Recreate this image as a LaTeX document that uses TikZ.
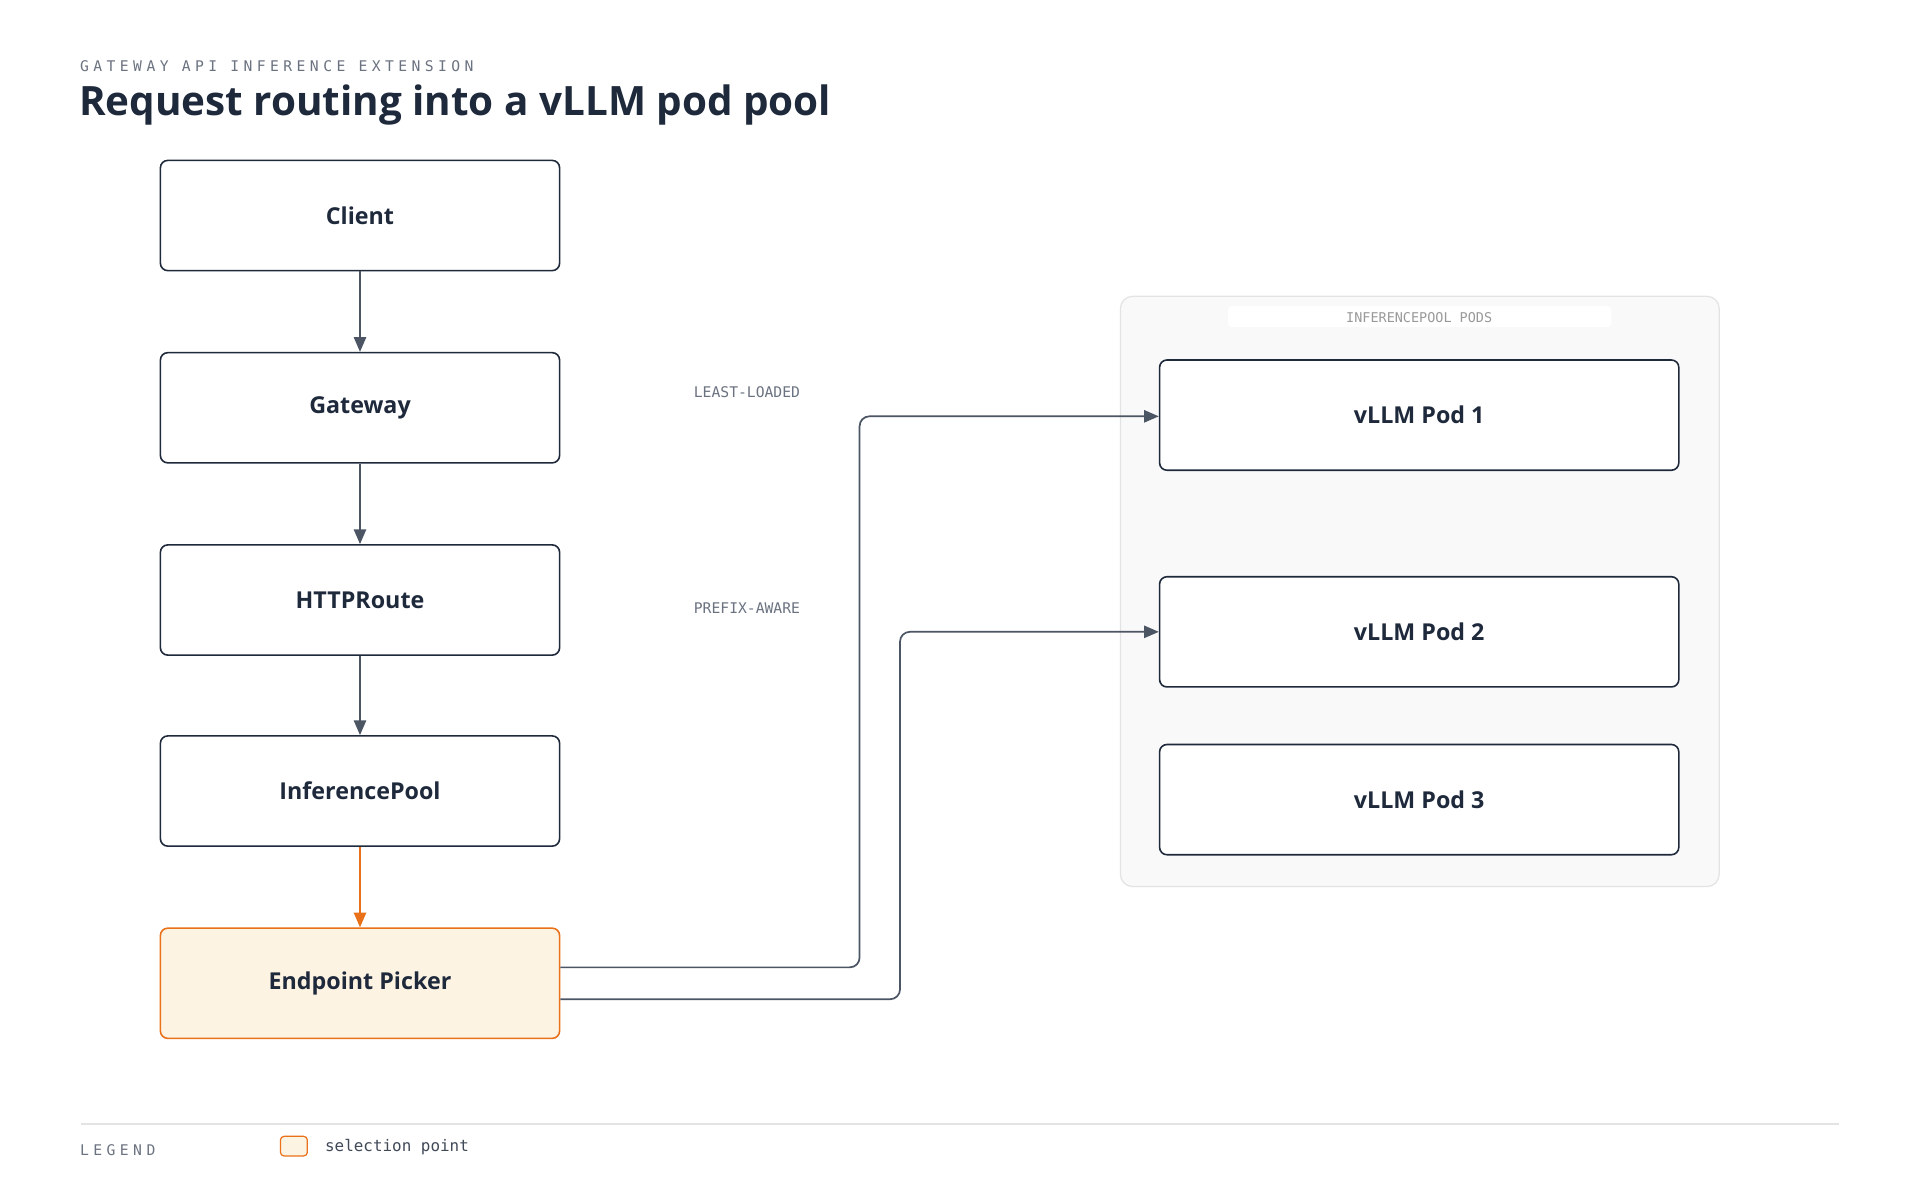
\documentclass[tikz,border=0pt]{standalone}
\usepackage{fontspec}
\setmainfont{Open Sans}
\setmonofont{DejaVu Sans Mono}
\newfontfamily\spacedmono[LetterSpace=30]{DejaVu Sans Mono}
\usetikzlibrary{arrows.meta, positioning, calc}
\definecolor{ink}{HTML}{1E293B}
\definecolor{wire}{HTML}{4B5563}
\definecolor{muted}{HTML}{6B7280}
\definecolor{pick}{HTML}{E8711A}
\definecolor{pickfill}{HTML}{FDF3E3}
\definecolor{groupfill}{HTML}{F9F9F9}
\definecolor{groupline}{HTML}{E3E3E3}
\tikzset{
  box/.style={draw=ink, line width=1.3pt, rounded corners=6pt, fill=white,
    minimum width=326pt, minimum height=90pt, font=\fontsize{19}{22}\selectfont\bfseries, text=ink},
  podbox/.style={box, minimum width=424pt},
  pickbox/.style={box, draw=pick, fill=pickfill},
  flow/.style={draw=wire, line width=1.4pt, -{Triangle[length=12pt,width=10pt]}},
  route/.style={flow, rounded corners=8pt},
  tag/.style={font=\ttfamily\fontsize{12}{14}\selectfont, text=muted}
}
\begin{document}
\begin{tikzpicture}[x=1pt,y=-1pt]
  \useasboundingbox[fill=white] (0,0) rectangle (1568,980);

  % header
  \node[tag, anchor=west, font=\spacedmono\fontsize{12}{14}\selectfont] (kicker) at (62,54) {GATEWAY API INFERENCE EXTENSION};
  \node[anchor=west, font=\fontsize{33}{38}\selectfont\bfseries, text=ink] (title) at (61,86) {Request routing into a vLLM pod pool};

  % pod group
  \draw[groupline, fill=groupfill, line width=1pt, rounded corners=10pt] (915,242) rectangle (1404,724);
  \fill[white, rounded corners=3pt] (1003,250) rectangle (1316,267);
  \node[tag, text=gray!80, font=\ttfamily\fontsize{11}{13}\selectfont] (grouplabel) at (1159,259) {INFERENCEPOOL PODS};

  % chain
  \node[box] (client) at (294,176) {Client};
  \node[box] (gateway) at (294,333) {Gateway};
  \node[box] (route) at (294,490) {HTTPRoute};
  \node[box] (pool) at (294,646) {InferencePool};
  \node[pickbox] (picker) at (294,803) {Endpoint Picker};

  \node[podbox] (pod1) at (1159,339) {vLLM Pod 1};
  \node[podbox] (pod2) at (1159,516) {vLLM Pod 2};
  \node[podbox] (pod3) at (1159,653) {vLLM Pod 3};

  \draw[flow] (client) -- (gateway);
  \draw[flow] (gateway) -- (route);
  \draw[flow] (route) -- (pool);
  \draw[flow, draw=pick] (pool) -- (picker);

  \coordinate (out1) at ($(picker.east)+(0,-13)$);
  \coordinate (out2) at ($(picker.east)+(0,13)$);
  \draw[route] (out1) -| (702,340) -- (pod1.west |- 0,340);
  \draw[route] (out2) -| (735,516) -- (pod2.west);

  \node[tag] (least) at (610,320) {LEAST-LOADED};
  \node[tag] (prefix) at (610,497) {PREFIX-AWARE};

  % legend
  \draw[groupline, line width=1pt] (66,918) coordinate (rulea) -- (1502,918) coordinate (ruleb);
  \node[tag, anchor=west, font=\spacedmono\fontsize{12}{14}\selectfont] (legend) at (62,939) {LEGEND};
  \draw[pick, fill=pickfill, line width=1pt, rounded corners=3pt] (229,928) rectangle (251,944);
  \node[tag, anchor=west, text=ink!85, font=\ttfamily\fontsize{13}{15}\selectfont] (legendtext) at (262,937) {selection point};
\end{tikzpicture}
\end{document}
